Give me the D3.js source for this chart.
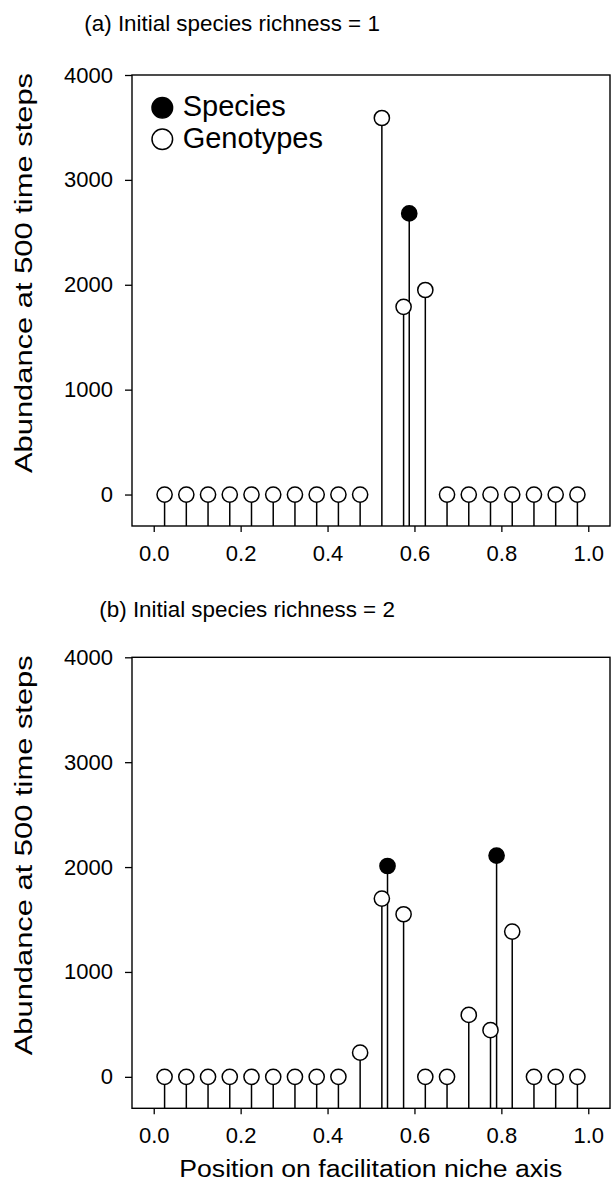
<!DOCTYPE html>
<html>
<head>
<meta charset="utf-8">
<script src="https://cdn.jsdelivr.net/npm/d3@7"></script>
<style>
  body { margin: 0; background: #fff; }
  svg { display: block; font-family: "Liberation Sans", Arial, sans-serif; }
  .tick text { font-size: 22px; fill: #000; }
  .tick line { stroke: #000; stroke-width: 1.3; }
</style>
</head>
<body>
<div id="chart"></div>
<script>
// Data
const positions = [0.025, 0.075, 0.125, 0.175, 0.225, 0.275, 0.325, 0.375, 0.425, 0.475,
                   0.525, 0.575, 0.625, 0.675, 0.725, 0.775, 0.825, 0.875, 0.925, 0.975];

// (a) initial species richness = 1
const genotypesA = [0, 0, 0, 0, 0, 0, 0, 0, 0, 0,
                    3590, 1790, 1950, 0, 0, 0, 0, 0, 0, 0];
const speciesPosA = [0.588];
const speciesA = [2680];

// (b) initial species richness = 2
const genotypesB = [0, 0, 0, 0, 0, 0, 0, 0, 0, 230,
                    1700, 1550, 0, 0, 590, 445, 1385, 0, 0, 0];
const speciesPosB = [0.538, 0.789];
const speciesB = [2010, 2110];

const xTicks = [0.0, 0.2, 0.4, 0.6, 0.8, 1.0];
const yTicks = [0, 1000, 2000, 3000, 4000];
const xDomain = [-0.05, 1.05];
const yDomain = [-300, 4000];

// Configuration
const W = 615, H = 1183;
const left = 132, right = 610;
const r = 7.6;

const svg = d3.select("#chart")
    .append("svg")
    .attr("width", W)
    .attr("height", H);

const x = d3.scaleLinear().domain(xDomain).range([left, right]);

function drawPanel(top, bottom, title, titleX, titleY, genotypes, speciesPos, species, showLegend) {
    const y = d3.scaleLinear().domain(yDomain).range([bottom, top]);
    const g = svg.append("g");

    // Title
    g.append("text")
        .attr("x", titleX)
        .attr("y", titleY)
        .style("font-size", "22.4px")
        .text(title);

    // Y axis
    g.append("g")
        .attr("transform", `translate(${left}, 0)`)
        .call(d3.axisLeft(y).tickValues(yTicks).tickSize(7).tickPadding(12).tickFormat(d3.format("d")))
        .call(a => a.select(".domain").remove());

    // X axis
    g.append("g")
        .attr("transform", `translate(0, ${bottom})`)
        .call(d3.axisBottom(x).tickValues(xTicks).tickSize(6).tickPadding(13).tickFormat(d3.format(".1f")))
        .call(a => a.select(".domain").remove());

    // Y label
    g.append("text")
        .attr("transform", `translate(32, ${(top + bottom) / 2 - 27.5}) rotate(-90)`)
        .attr("text-anchor", "middle")
        .attr("textLength", 400)
        .attr("lengthAdjust", "spacingAndGlyphs")
        .style("font-size", "23px")
        .text("Abundance at 500 time steps");

    const geno = positions.map((p, i) => ({ pos: p, val: genotypes[i], filled: false }));
    const spec = speciesPos.map((p, i) => ({ pos: p, val: species[i], filled: true }));
    const all = geno.concat(spec);

    // Stems
    g.selectAll(".stem")
        .data(all)
        .join("line")
        .attr("class", "stem")
        .attr("x1", d => x(d.pos))
        .attr("x2", d => x(d.pos))
        .attr("y1", y(yDomain[0]))
        .attr("y2", d => y(d.val))
        .attr("stroke", "#000")
        .attr("stroke-width", 1.5);

    // Points
    g.selectAll(".pt")
        .data(all)
        .join("circle")
        .attr("class", "pt")
        .attr("cx", d => x(d.pos))
        .attr("cy", d => y(d.val))
        .attr("r", r)
        .attr("fill", d => d.filled ? "#000" : "#fff")
        .attr("stroke", "#000")
        .attr("stroke-width", 1.5);

    // Frame
    g.append("rect")
        .attr("x", left)
        .attr("y", top)
        .attr("width", right - left)
        .attr("height", bottom - top)
        .attr("fill", "none")
        .attr("stroke", "#000")
        .attr("stroke-width", 1.4);

    if (showLegend) {
        const legend = g.append("g");
        const items = [{ label: "Species", filled: true }, { label: "Genotypes", filled: false }];
        items.forEach((it, i) => {
            legend.append("circle")
                .attr("cx", 162.3)
                .attr("cy", top + 32.7 + i * 31.6)
                .attr("r", 10.3)
                .attr("fill", it.filled ? "#000" : "#fff")
                .attr("stroke", "#000")
                .attr("stroke-width", 1.5);
            legend.append("text")
                .attr("x", 182.7)
                .attr("y", top + 40.7 + i * 32.6)
                .style("font-size", "29px")
                .text(it.label);
        });
    }
}

drawPanel(75, 526, "(a) Initial species richness = 1", 84.3, 30.7, genotypesA, speciesPosA, speciesA, true);
drawPanel(657.3, 1108.3, "(b) Initial species richness = 2", 99.3, 616.7, genotypesB, speciesPosB, speciesB, false);

// X axis title
svg.append("text")
    .attr("x", 179.3)
    .attr("y", 1176.7)
    .attr("textLength", 383)
    .attr("lengthAdjust", "spacingAndGlyphs")
    .style("font-size", "23px")
    .text("Position on facilitation niche axis");
</script>
</body>
</html>
